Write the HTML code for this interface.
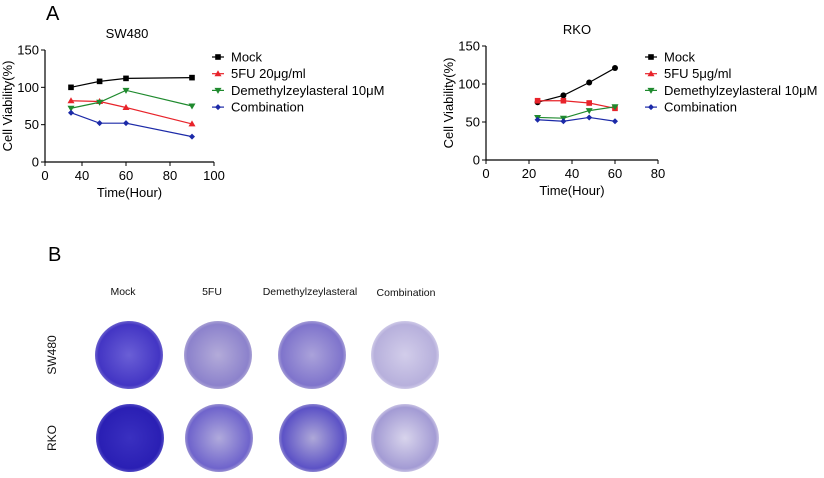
<!DOCTYPE html>
<html><head><meta charset="utf-8"><style>
body{margin:0;background:#fff;width:824px;height:478px;overflow:hidden;font-family:"Liberation Sans",Arial,sans-serif}
svg{position:absolute;left:0;top:0}
</style></head><body>
<svg id="fig" width="824" height="478" viewBox="0 0 824 478" xmlns="http://www.w3.org/2000/svg">
<defs>
<radialGradient id="g1"><stop offset="0" stop-color="#6a5fd6"/><stop offset="0.9" stop-color="#4335c4"/><stop offset="1" stop-color="#6a60cc"/></radialGradient>
<radialGradient id="g2"><stop offset="0" stop-color="#b3abd9"/><stop offset="0.9" stop-color="#8c82cc"/><stop offset="1" stop-color="#a8a0d4"/></radialGradient>
<radialGradient id="g3"><stop offset="0" stop-color="#aaa2da"/><stop offset="0.9" stop-color="#7f74cc"/><stop offset="1" stop-color="#a49cd6"/></radialGradient>
<radialGradient id="g4"><stop offset="0" stop-color="#d2cdea"/><stop offset="0.9" stop-color="#b7b0dc"/><stop offset="1" stop-color="#cfcae8"/></radialGradient>
<radialGradient id="g5"><stop offset="0" stop-color="#3a30c0"/><stop offset="0.9" stop-color="#2a1fb4"/><stop offset="1" stop-color="#5048c4"/></radialGradient>
<radialGradient id="g6"><stop offset="0" stop-color="#b0aadc"/><stop offset="0.9" stop-color="#6f64cc"/><stop offset="1" stop-color="#9a92d2"/></radialGradient>
<radialGradient id="g7"><stop offset="0" stop-color="#aea8d8"/><stop offset="0.9" stop-color="#5c52c6"/><stop offset="1" stop-color="#8c84d0"/></radialGradient>
<radialGradient id="g8"><stop offset="0" stop-color="#d8d4ec"/><stop offset="0.9" stop-color="#a39bd4"/><stop offset="1" stop-color="#c8c2e4"/></radialGradient>
</defs>
<text x="46" y="20" font-size="20">A</text>
<text x="48" y="261" font-size="20">B</text>
<g id="charts"></g>
<g id="dishes" font-size="10.5" fill="#111">
<text x="123" y="295" text-anchor="middle">Mock</text>
<text x="212" y="295" text-anchor="middle">5FU</text>
<text x="310" y="295" text-anchor="middle">Demethylzeylasteral</text>
<text x="406" y="296" text-anchor="middle">Combination</text>
<text transform="translate(56,355) rotate(-90)" text-anchor="middle" font-size="12">SW480</text>
<text transform="translate(56,438) rotate(-90)" text-anchor="middle" font-size="12">RKO</text>
<circle cx="129" cy="355" r="34" fill="url(#g1)"/>
<circle cx="218" cy="355" r="34" fill="url(#g2)"/>
<circle cx="312" cy="355" r="34" fill="url(#g3)"/>
<circle cx="405" cy="355" r="34" fill="url(#g4)"/>
<circle cx="130" cy="438" r="34" fill="url(#g5)"/>
<circle cx="219" cy="438" r="34" fill="url(#g6)"/>
<circle cx="313" cy="438" r="34" fill="url(#g7)"/>
<circle cx="405" cy="438" r="34" fill="url(#g8)"/>
</g>
</svg>
<script>
const swTimes=[35,48,60,90];
const swMock=[100,108,112,113];
const sw5fu=[82,81,73,51];
const swDeme=[72,80,96,75];
const swComb=[66,52,52,34];
const swXTicks=[40,60,80,100];
const rkoTimes=[24,36,48,60];
const rkoMock=[76,85,102,121];
const rko5fu=[78,78,75,68];
const rkoDeme=[56,55,65,70];
const rkoComb=[53,51,56,51];
const rkoXTicks=[0,20,40,60,80];
const yTicks=[0,50,100,150];
const legendSW=["Mock","5FU 20μg/ml","Demethylzeylasteral 10μM","Combination"];
const legendRKO=["Mock","5FU 5μg/ml","Demethylzeylasteral 10μM","Combination"];
const colors=["#000","#e8232a","#1f8a2e","#1c2aa8"];
const NS="http://www.w3.org/2000/svg";
const root=document.getElementById('charts');
function el(t,a,p){const e=document.createElementNS(NS,t);for(const k in a)e.setAttribute(k,a[k]);(p||root).appendChild(e);return e;}
function marker(g,shape,x,y,c){
  let m;
  if(shape==='square')m=el('rect',{x:x-2.8,y:y-2.8,width:5.6,height:5.6,fill:c},g);
  else if(shape==='circle')m=el('circle',{cx:x,cy:y,r:3,fill:c},g);
  else if(shape==='up')m=el('polygon',{points:`${x},${y-3.5} ${x-3.5},${y+2.5} ${x+3.5},${y+2.5}`,fill:c},g);
  else if(shape==='down')m=el('polygon',{points:`${x},${y+3.5} ${x-3.5},${y-2.5} ${x+3.5},${y-2.5}`,fill:c},g);
  else m=el('polygon',{points:`${x},${y-3} ${x-3},${y} ${x},${y+3} ${x+3},${y}`,fill:c},g);
  
}
function chart(cfg){
  const g=el('g',{});
  
  
  const sx=cfg.sx;
  const sy=v=>cfg.y0-(v/150)*(cfg.y0-cfg.y1);
  el('line',{x1:cfg.x0,y1:cfg.y0,x2:cfg.x1,y2:cfg.y0,stroke:'#000','stroke-width':1.2},g);
  el('line',{x1:cfg.x0,y1:cfg.y0,x2:cfg.x0,y2:cfg.y1,stroke:'#000','stroke-width':1.2},g);
  yTicks.forEach(v=>{el('line',{x1:cfg.x0-4,x2:cfg.x0,y1:sy(v),y2:sy(v),stroke:'#000'},g);
    const t=el('text',{x:cfg.x0-6,y:sy(v)+4.5,'text-anchor':'end','font-size':13},g);t.textContent=v;
    });
  const ticks=cfg.zero?[0].concat(cfg.xt):cfg.xt;
  ticks.forEach(v=>{const x=v===0?cfg.x0:sx(v);el('line',{x1:x,x2:x,y1:cfg.y0,y2:cfg.y0+4,stroke:'#000'},g);
    const t=el('text',{x:x,y:cfg.y0+18,'text-anchor':'middle','font-size':13},g);t.textContent=v;
    });
  let t=el('text',{x:(cfg.x0+cfg.x1)/2,y:cfg.y0+35,'text-anchor':'middle','font-size':13},g);t.textContent='Time(Hour)';
  
  t=el('text',{transform:`translate(${cfg.x0-33},${(cfg.y0+cfg.y1)/2}) rotate(-90)`,'text-anchor':'middle','font-size':13},g);t.textContent='Cell Viability(%)';
  
  t=el('text',{x:cfg.tx,y:cfg.y1-12,'text-anchor':'middle','font-size':13},g);t.textContent=cfg.title;
  
  cfg.series.forEach((s,i)=>{
    const p=el('polyline',{points:s.map((v,j)=>sx(cfg.t[j])+','+sy(v)).join(' '),fill:'none',stroke:colors[i],'stroke-width':1.2},g);
    
    s.forEach((v,j)=>marker(g,cfg.shapes[i],sx(cfg.t[j]),sy(v),colors[i]));
    const ly=57+i*16.7;
    el('line',{x1:cfg.lx,x2:cfg.lx+12,y1:ly,y2:ly,stroke:colors[i],'stroke-width':1.2},g);
    marker(g,cfg.lshapes[i],cfg.lx+6,ly,colors[i]);
    const lt=el('text',{x:cfg.lx+19,y:ly+4.5,'font-size':13},g);lt.textContent=cfg.leg[i];
    
  });
}
chart({name:'sw480-chart',title:'SW480',tx:127,x0:45,x1:214,y0:162,y1:50,zero:true,sx:v=>82+(v-40)*2.2,xt:swXTicks,t:swTimes,series:[swMock,sw5fu,swDeme,swComb],shapes:['square','up','down','diamond'],lshapes:['square','up','down','diamond'],lx:212,leg:legendSW});
chart({name:'rko-chart',title:'RKO',tx:577,x0:486,x1:658,y0:160,y1:46,zero:false,sx:v=>486+v/80*172,xt:rkoXTicks,t:rkoTimes,series:[rkoMock,rko5fu,rkoDeme,rkoComb],shapes:['circle','square','down','diamond'],lshapes:['square','up','down','diamond'],lx:645,leg:legendRKO});
</script>
</body></html>
